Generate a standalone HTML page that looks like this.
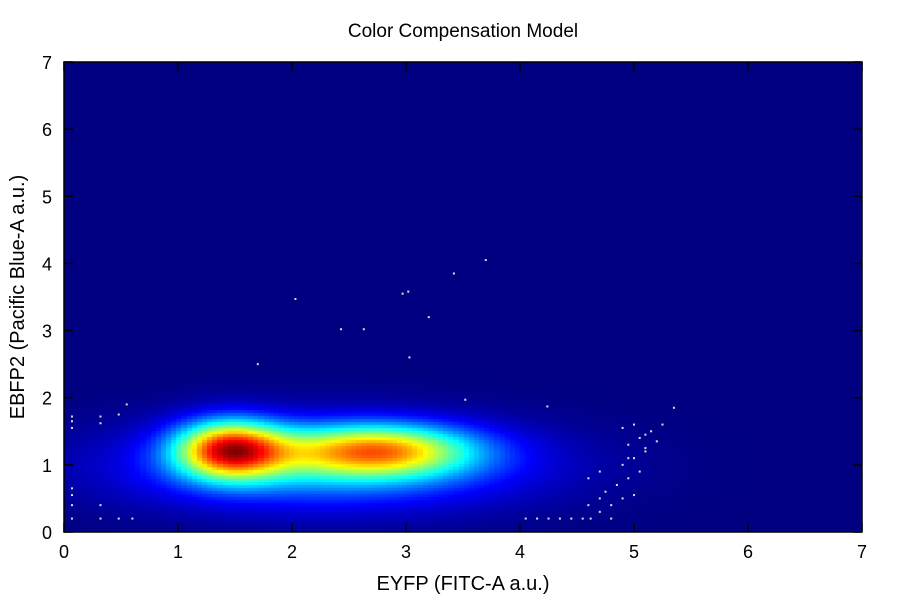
<!DOCTYPE html>
<html><head><meta charset="utf-8"><style>
body{margin:0;background:#fff;width:900px;height:600px;overflow:hidden}
svg{font-family:"Liberation Sans",sans-serif}
</style></head><body>
<svg id="chart" width="900" height="600" xmlns="http://www.w3.org/2000/svg">
<text x="463" y="37" font-size="19" text-anchor="middle">Color Compensation Model</text>
<foreignObject x="64" y="62" width="798" height="470">
<canvas id="cv" width="798" height="470" style="display:block" xmlns="http://www.w3.org/1999/xhtml"></canvas>
</foreignObject>
<g id="dots"></g>
<rect x="64" y="62" width="798" height="470" fill="none" stroke="#000" stroke-width="1.5"/>
<g id="axes"></g>
<text x="463" y="590" font-size="20" text-anchor="middle">EYFP (FITC-A a.u.)</text>
<text transform="translate(24,297) rotate(-90)" font-size="20" text-anchor="middle">EBFP2 (Pacific Blue-A a.u.)</text>
</svg>
<script>
// density components
const compX=[1.46,2.75,2.3];
const compY=[1.25,1.24,1.0];
const compSX=[0.33,0.58,1.2];
const compSY=[0.3,0.27,0.45];
const compAmp=[1.0,0.75,0.38];
const xTicks=[0,1,2,3,4,5,6,7];
const yTicks=[0,1,2,3,4,5,6,7];
const dotX=[0.07,0.07,0.07,0.07,0.07,0.07,0.07,0.32,0.32,0.32,0.32,0.48,0.6,0.48,0.55,1.7,2.03,2.43,2.63,2.97,3.02,3.03,3.2,3.42,3.7,3.52,4.24,4.05,4.15,4.25,4.35,4.45,4.55,4.62,4.7,4.8,4.9,4.75,4.85,4.95,5.05,4.9,5.0,5.1,4.95,5.05,5.15,5.0,4.9,5.1,5.2,4.8,4.6,4.7,5.25,5.35,4.95,5.0,5.1,4.6,4.7];
const dotY=[0.2,0.4,0.55,0.65,1.55,1.65,1.72,0.2,0.4,1.62,1.72,0.2,0.2,1.75,1.9,2.5,3.47,3.02,3.02,3.55,3.58,2.6,3.2,3.85,4.05,1.97,1.87,0.2,0.2,0.2,0.2,0.2,0.2,0.2,0.3,0.4,0.5,0.6,0.7,0.8,0.9,1.0,1.1,1.2,1.3,1.4,1.5,1.6,1.55,1.45,1.35,0.2,0.4,0.5,1.6,1.85,1.1,0.55,1.25,0.8,0.9];
const X0=64,Y0=532,W=798,H=470;
const xs=v=>X0+v/7*W, ys=v=>Y0-v/7*H;
function dens(x,y){let s=0;for(let i=0;i<compX.length;i++){const dx=(x-compX[i])/compSX[i],dy=(y-compY[i])/compSY[i];s+=compAmp[i]*Math.exp(-0.5*(dx*dx+dy*dy));}return s;}
function jet(v){const c=t=>Math.max(0,Math.min(1,t));return[c(1.5-Math.abs(4*v-3)),c(1.5-Math.abs(4*v-2)),c(1.5-Math.abs(4*v-1))].map(t=>Math.round(t*255));}
const cv=document.getElementById('cv'),ctx=cv.getContext('2d');
const step=0.045;let mx=0;const cells=[];
for(let x=0;x<7;x+=step)for(let y=0;y<7;y+=step){const d=dens(x+step/2,y+step/2);cells.push([x,y,d]);if(d>mx)mx=d;}
cells.forEach(([x,y,d])=>{const [r,g,b]=jet(d/mx);ctx.fillStyle=`rgb(${r},${g},${b})`;const px=xs(x)-X0,py=ys(y+step)-(Y0-H);ctx.fillRect(Math.floor(px),Math.floor(py),Math.ceil(step/7*W)+1,Math.ceil(step/7*H)+1);});
const NS='http://www.w3.org/2000/svg';
const dg=document.getElementById('dots');
dotX.forEach((x,i)=>{const r=document.createElementNS(NS,'rect');


r.setAttribute('x',xs(x)-1);r.setAttribute('y',ys(dotY[i])-1);r.setAttribute('width',2);r.setAttribute('height',2);r.setAttribute('fill','#ddd');dg.appendChild(r);});
const ax=document.getElementById('axes');
function el(t,a,txt){const e=document.createElementNS(NS,t);for(const k in a)e.setAttribute(k,a[k]);if(txt!==undefined)e.textContent=txt;ax.appendChild(e);return e;}
xTicks.forEach(v=>{const x=xs(v);
const l1=el('line',{x1:x,x2:x,y1:Y0,y2:Y0-9,stroke:'#000','stroke-width':1.5});
const l2=el('line',{x1:x,x2:x,y1:Y0-H,y2:Y0-H+9,stroke:'#000','stroke-width':1.5});
const t=el('text',{x:x,y:558,'font-size':18,'text-anchor':'middle'},String(v));});
yTicks.forEach(v=>{const y=ys(v);
const l1=el('line',{x1:X0,x2:X0+9,y1:y,y2:y,stroke:'#000','stroke-width':1.5});
const l2=el('line',{x1:X0+W,x2:X0+W-9,y1:y,y2:y,stroke:'#000','stroke-width':1.5});
const t=el('text',{x:52,y:y+7,'font-size':18,'text-anchor':'end'},String(v));});
</script>
</body></html>
